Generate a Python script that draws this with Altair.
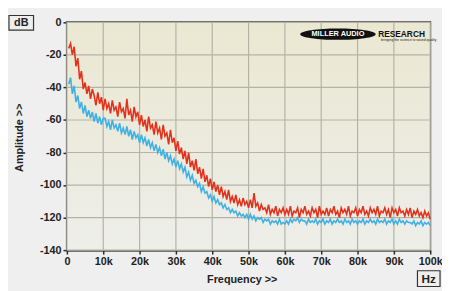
import altair as alt
import pandas as pd

# frequency grid in kHz (0.5 kHz steps)
freq_khz = [round(0.5 * i, 1) for i in range(1, 201)]

red_db = [
    -16, -13, -20, -15, -27, -22, -35, -30, -41, -37, -44, -39, -47, -41, -45, -51, -43, -50, -46, -54,
    -47, -53, -50, -56, -48, -54, -52, -58, -49, -55, -53, -59, -47, -57, -54, -61, -52, -58, -55, -63,
    -57, -64, -60, -67, -58, -65, -63, -69, -61, -68, -65, -72, -63, -70, -68, -75, -66, -74, -71, -79,
    -73, -81, -77, -84, -79, -87, -80, -89, -85, -91, -84, -93, -89, -96, -90, -98, -94, -101, -96, -103,
    -98, -104, -100, -106, -101, -107, -104, -109, -103, -110, -107, -111, -106, -112, -109, -113, -108, -112, -110, -114,
    -109, -114, -105, -113, -111, -116, -112, -115, -114, -117, -112, -118, -115, -117, -113, -119, -115, -117, -114, -118,
    -115, -118, -113, -119, -116, -117, -114, -120, -115, -117, -113, -118, -116, -119, -114, -117, -115, -120, -113, -118,
    -116, -118, -114, -119, -115, -117, -113, -118, -116, -120, -114, -117, -115, -118, -113, -119, -116, -117, -114, -119,
    -115, -117, -113, -118, -116, -119, -114, -117, -115, -118, -113, -119, -116, -117, -114, -118, -115, -120, -114, -117,
    -115, -119, -114, -117, -116, -119, -115, -118, -114, -120, -116, -118, -115, -119, -117, -120, -116, -119, -117, -121,
]

blue_db = [
    -38, -34, -44, -39, -49, -45, -53, -49, -56, -51, -58, -54, -59, -55, -61, -56, -62, -58, -63, -59,
    -59, -64, -61, -66, -60, -65, -63, -67, -62, -68, -65, -69, -64, -70, -66, -72, -67, -71, -69, -74,
    -69, -74, -71, -76, -72, -77, -74, -79, -75, -80, -77, -82, -78, -84, -80, -85, -82, -87, -84, -89,
    -85, -90, -87, -92, -89, -95, -92, -97, -94, -99, -97, -101, -99, -104, -101, -105, -104, -108, -106, -110,
    -107, -111, -109, -112, -111, -114, -112, -115, -114, -117, -115, -117, -116, -119, -117, -119, -118, -120, -118, -121,
    -118, -121, -119, -122, -120, -121, -120, -123, -121, -122, -121, -124, -122, -123, -122, -124, -121, -124, -123, -124,
    -122, -124, -121, -123, -121, -122, -120, -123, -121, -122, -122, -124, -121, -123, -122, -123, -121, -124, -122, -123,
    -121, -124, -122, -123, -121, -124, -122, -123, -121, -123, -122, -124, -121, -123, -122, -124, -121, -123, -122, -124,
    -122, -123, -121, -124, -122, -123, -121, -123, -122, -124, -121, -123, -122, -123, -121, -124, -122, -123, -121, -124,
    -122, -124, -121, -123, -122, -124, -122, -123, -123, -124, -122, -125, -123, -124, -122, -125, -123, -124, -123, -125,
]

x_ticks = [0, 10, 20, 30, 40, 50, 60, 70, 80, 90, 100]
y_ticks = [0, -20, -40, -60, -80, -100, -120, -140]

df = pd.DataFrame({"freq": freq_khz, "red": red_db, "blue": blue_db})
xt = pd.DataFrame({"xv": x_ticks})
yt = pd.DataFrame({"yv": y_ticks})
one = pd.DataFrame({"a": [0]})

FONT = "Liberation Sans"
W, H = 370, 232
GRID = "#b3b3a8"

x_scale = alt.Scale(domain=[0, 100], nice=False)
y_scale = alt.Scale(domain=[-140, 0], nice=False)

x_axis = alt.Axis(
    values=x_ticks,
    labelExpr="datum.value == 0 ? '0' : datum.value + 'k'",
    labelOverlap=False,
    labelFlush=False,
    title="Frequency >>",
    titleX=178,
    titleY=30,
    titleBaseline="middle",
    titleAnchor="start",
    titleAlign="center",
)
y_axis = alt.Axis(
    values=y_ticks,
    labelExpr="datum.value == 0 ? '0' : '-' + abs(datum.value)",
    labelOverlap=False,
    labelFlush=False,
    title="Amplitude >>",
    titleX=-48,
    titleY=117,
    titleAngle=270,
    titleAlign="center",
    titleBaseline="middle",
    titleAnchor="start",
)

base1 = alt.Chart(one)

bg = base1.mark_rect(
    color=alt.LinearGradient(
        gradient="linear",
        stops=[
            alt.GradientStop(color="#ebe8d2", offset=0),
            alt.GradientStop(color="#ecebdf", offset=0.6),
            alt.GradientStop(color="#eeeeea", offset=1),
        ],
        x1=0, x2=0, y1=0, y2=1,
    )
).encode(x=alt.value(0), x2=alt.value(W), y=alt.value(0), y2=alt.value(H))

vgrid = alt.Chart(xt).mark_rule(color=GRID, strokeWidth=1.2).encode(
    x=alt.X("xv:Q", scale=x_scale, axis=x_axis, title="Frequency >>")
)
hgrid = alt.Chart(yt).mark_rule(color=GRID, strokeWidth=1.2).encode(
    y=alt.Y("yv:Q", scale=y_scale, axis=y_axis, title="Amplitude >>")
)

blue_line = alt.Chart(df).mark_line(color="#3fb0e4", strokeWidth=1.6).encode(
    x=alt.X("freq:Q", scale=x_scale, axis=x_axis, title="Frequency >>"),
    y=alt.Y("blue:Q", scale=y_scale, axis=y_axis, title="Amplitude >>"),
)
red_line = alt.Chart(df).mark_line(color="#e3321c", strokeWidth=1.6).encode(
    x=alt.X("freq:Q", scale=x_scale, axis=x_axis, title="Frequency >>"),
    y=alt.Y("red:Q", scale=y_scale, axis=y_axis, title="Amplitude >>"),
)

ellipse = base1.mark_point(
    shape="M-1,0A1,0.15,0,1,0,1,0A1,0.15,0,1,0,-1,0Z",
    filled=True,
    color="#111111",
    opacity=1,
    size=5900,
).encode(x=alt.value(276), y=alt.value(12))
logo_a = base1.mark_text(
    text="MILLER AUDIO", font=FONT, fontWeight="bold", fontSize=7.5, color="#ffffff", align="center", baseline="middle"
).encode(x=alt.value(276), y=alt.value(12))
logo_b = base1.mark_text(
    text="RESEARCH", font=FONT, fontWeight="bold", fontSize=8.5, color="#111111", align="left", baseline="middle"
).encode(x=alt.value(317), y=alt.value(12))
logo_c = base1.mark_text(
    text="bringing the science to sound quality", font=FONT, fontSize=3.5, color="#222222", align="left", baseline="middle"
).encode(x=alt.value(320), y=alt.value(18.5))

db_box = base1.mark_rect(fill="#eeeeee", stroke="#333333", strokeWidth=1.2).encode(
    x=alt.value(-59), x2=alt.value(-34), y=alt.value(-7), y2=alt.value(8)
)
db_txt = base1.mark_text(
    text="dB", font=FONT, fontWeight="bold", fontSize=11, color="#222222", align="center", baseline="middle"
).encode(x=alt.value(-46.5), y=alt.value(0.5))
hz_box = base1.mark_rect(fill="#eeeeee", stroke="#333333", strokeWidth=1.2).encode(
    x=alt.value(357), x2=alt.value(380), y=alt.value(253), y2=alt.value(269)
)
hz_txt = base1.mark_text(
    text="Hz", font=FONT, fontWeight="bold", fontSize=12, color="#222222", align="center", baseline="middle"
).encode(x=alt.value(368.5), y=alt.value(261.5))

chart = (
    alt.layer(bg, vgrid, hgrid, blue_line, red_line, ellipse, logo_a, logo_b, logo_c, db_box, db_txt, hz_box, hz_txt)
    .properties(
        width=W,
        height=H,
        autosize=alt.AutoSizeParams(type="none"),
        padding={"left": 60, "top": 12, "right": 12, "bottom": 39},
        background="#efefef",
    )
    .configure_view(stroke="#2a2a2a", strokeWidth=2)
    .configure_axis(
        labelFont=FONT,
        labelFontWeight="bold",
        labelFontSize=11,
        labelColor="#222222",
        labelOverlap=False,
        titleFont=FONT,
        titleFontWeight="bold",
        titleFontSize=11,
        titleColor="#222222",
        grid=False,
        domainColor="#2a2a2a",
        domainWidth=2,
        tickColor="#2a2a2a",
        tickSize=4,
        tickWidth=1.5,
        labelPadding=2,
        zindex=1,
    )
)

chart.save("out.html", embed_options={"renderer": "svg", "actions": False})
